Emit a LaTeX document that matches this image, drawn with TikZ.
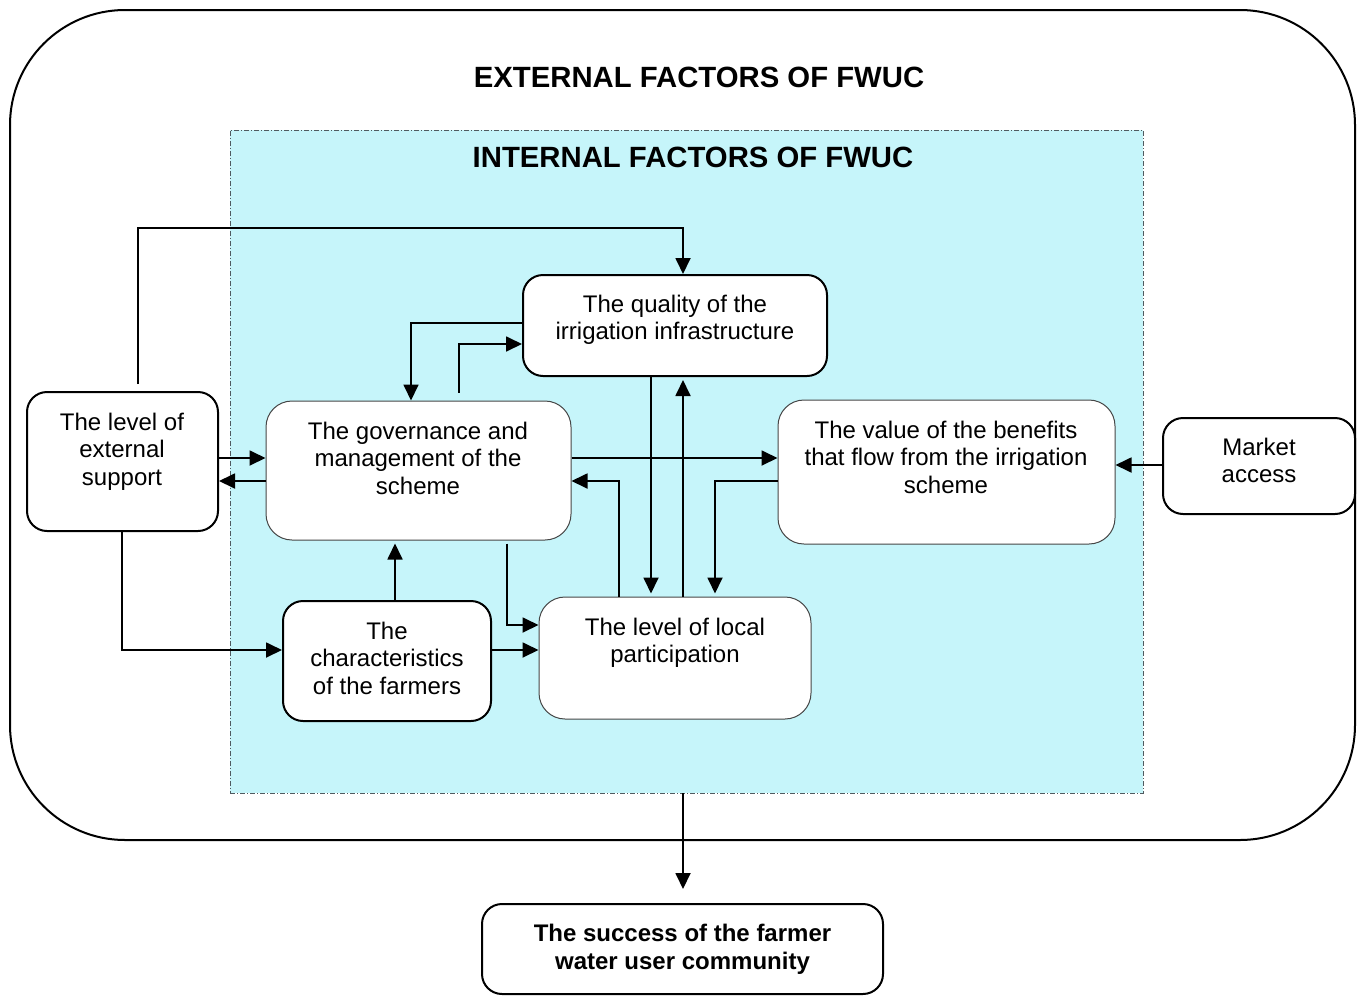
\documentclass[tikz,border=0pt]{standalone}
\usepackage{fontspec}
\setmainfont{Liberation Sans}
\usetikzlibrary{arrows.meta}
\definecolor{innerfill}{RGB}{198,245,250}
\definecolor{thinedge}{RGB}{70,70,70}
\definecolor{dashedge}{RGB}{80,90,95}

\begin{document}
\begin{tikzpicture}[x=1pt,y=-1pt,
  thickbox/.style={draw=black, line width=2pt, rounded corners=20pt, fill=white, inner sep=0},
  thinbox/.style={draw=thinedge, line width=1pt, rounded corners=26pt, fill=white, inner sep=0},
  lbl/.style={anchor=north, align=center, inner sep=0, font=\fontsize{24}{27.5}\selectfont},
  boldlbl/.style={lbl, font=\fontsize{24}{28}\selectfont\bfseries},
  title/.style={inner sep=0, font=\fontsize{29.3}{34}\selectfont\bfseries},
  arr/.style={line width=1.8pt, -{Triangle[length=16pt,width=15pt]}}]

\useasboundingbox (0,0) rectangle (1362,996);

% outer frame: external factors
\node[draw=black, line width=2pt, rounded corners=115pt, minimum width=1345pt, minimum height=830pt, inner sep=0] (outer) at (682.5,425) {};
\node[title] (outer-t) at (699,77.5) {EXTERNAL FACTORS OF FWUC};

% inner frame: internal factors
\node[fill=innerfill, draw=dashedge, line width=0.8pt, dash pattern=on 5pt off 2pt on 1pt off 2pt, minimum width=913pt, minimum height=663pt, inner sep=0] (inner) at (686.5,461.5) {};
\node[title] (inner-t) at (693,157.5) {INTERNAL FACTORS OF FWUC};

% factor boxes
\node[thickbox, minimum width=191pt, minimum height=139pt] (ext) at (122.5,461.5) {};
\node[thickbox, minimum width=304pt, minimum height=101pt] (qual) at (675,325.5) {};
\node[thinbox, minimum width=305pt, minimum height=139pt] (gov) at (418.5,470.5) {};
\node[thinbox, minimum width=337pt, minimum height=144pt] (value) at (946.5,472) {};
\node[thickbox, minimum width=192pt, minimum height=96pt] (market) at (1259,466) {};
\node[thickbox, minimum width=208pt, minimum height=120pt] (chars) at (387,661) {};
\node[thinbox, minimum width=272pt, minimum height=122pt] (local) at (675,658) {};
\node[thickbox, minimum width=401pt, minimum height=90pt] (succ) at (682.5,949) {};

% box texts
\node[lbl] (ext-t) at (122,412.5) {The level of\\external\\support};
\node[lbl] (qual-t) at (675,294.5) {The quality of the\\irrigation infrastructure};
\node[lbl] (gov-t) at (418,421.8) {The governance and\\management of the\\scheme};
\node[lbl] (value-t) at (946,420.5) {The value of the benefits\\that flow from the irrigation\\scheme};
\node[lbl] (market-t) at (1259,437.5) {Market\\access};
\node[lbl] (chars-t) at (387,621.5) {The\\characteristics\\of the farmers};
\node[lbl] (local-t) at (675,617.5) {The level of local\\participation};
\node[boldlbl] (succ-t) at (682.5,923.5) {The success of the farmer\\water user community};

% connectors
\draw[arr, shorten <=7pt] (ext.north -| 138,0) -- (138,228) -- (683,228) -- (qual.north -| 683,0);
\draw[arr] (qual.west |- 0,323) -| (gov.north -| 411,0);
\draw[arr, shorten <=8pt] (gov.north -| 459,0) |- (qual.west |- 0,344);
\draw[arr] (ext.east |- 0,458) -- (gov.west |- 0,458);
\draw[arr] (gov.west |- 0,481) -- (ext.east |- 0,481);
\draw[arr] (gov.east |- 0,458) -- (value.west |- 0,458);
\draw[arr] (market.west |- 0,465) -- (value.east |- 0,465);
\draw[arr, shorten >=3pt] (qual.south -| 651,0) -- (local.north -| 651,0);
\draw[arr, shorten >=3pt] (local.north -| 683,0) -- (qual.south -| 683,0);
\draw[arr] (local.north -| 619,0) |- (gov.east |- 0,481);
\draw[arr, shorten >=3pt] (value.west |- 0,481) -| (local.north -| 715,0);
\draw[arr, shorten <=3pt] (gov.south -| 507,0) |- (local.west |- 0,625);
\draw[arr] (chars.east |- 0,650) -- (local.west |- 0,650);
\draw[arr, shorten >=3pt] (chars.north -| 395,0) -- (gov.south -| 395,0);
\draw[arr] (ext.south -| 122,0) |- (chars.west |- 0,650);
\draw[arr, shorten >=14pt] (inner.south -| 683,0) -- (succ.north -| 683,0);
\end{tikzpicture}
\end{document}
